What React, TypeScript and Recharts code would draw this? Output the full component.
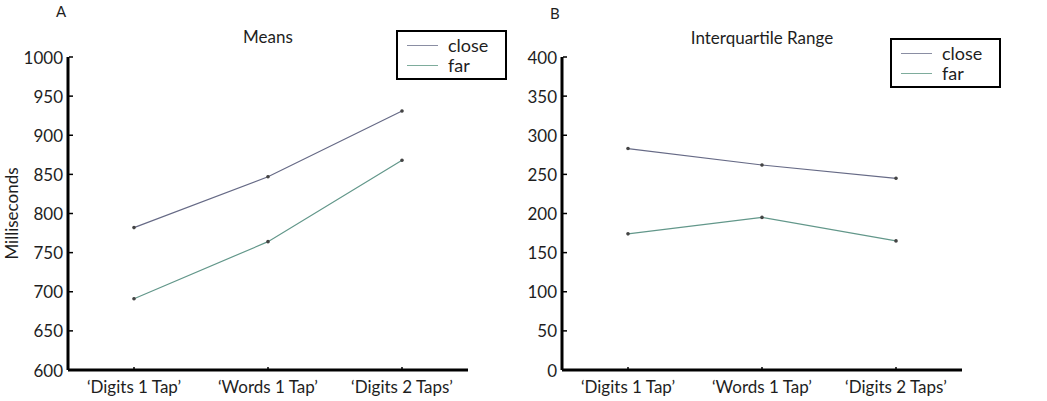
import { Line, LineChart, XAxis, YAxis } from 'recharts'

const categories = ['‘Digits 1 Tap’', '‘Words 1 Tap’', '‘Digits 2 Taps’']

const meansClose = [782, 847, 931]
const meansFar = [691, 764, 868]
const meanTicks = [600, 650, 700, 750, 800, 850, 900, 950, 1000]

const iqrClose = [283, 262, 245]
const iqrFar = [174, 195, 165]
const iqrTicks = [0, 50, 100, 150, 200, 250, 300, 350, 400]

const CLOSE = '#666a86'
const FAR = '#62978a'
const FONT = 'Lato, "Noto Sans", sans-serif'

const W = 520
const H = 401

function buildRows(close: number[], far: number[]) {
  return categories.map((name, i) => ({ name, close: close[i], far: far[i] }))
}

// inward tick marks, MATLAB style
function YTick(props: any) {
  const { x, y, payload } = props
  return (
    <g>
      <line x1={x + 6} x2={x + 10} y1={y} y2={y} stroke="#000" strokeWidth={1.5} />
      <text x={x} y={y} textAnchor="end" dominantBaseline="central" fontSize={17} fill="#1e1e1e" fontFamily={FONT}>
        {payload.value}
      </text>
    </g>
  )
}

function XTick(props: any) {
  const { x, y, payload } = props
  return (
    <g>
      <line x1={x} x2={x} y1={y - 1} y2={y - 5} stroke="#000" strokeWidth={1.5} />
      <text x={x} y={y + 14} textAnchor="middle" dominantBaseline="central" fontSize={17} fill="#1e1e1e" fontFamily={FONT}>
        {payload.value}
      </text>
    </g>
  )
}

function LegendBox({ left, top }: { left: number; top: number }) {
  const items = [
    { label: 'close', color: '#8a8ea3' },
    { label: 'far', color: '#7eac9c' },
  ]
  return (
    <div
      style={{
        position: 'absolute',
        left,
        top,
        width: 107,
        height: 46,
        border: '2px solid #000',
        background: '#fff',
        fontFamily: FONT,
        fontSize: 18,
        color: '#1e1e1e',
      }}
    >
      {items.map((it, i) => (
        <div key={it.label} style={{ display: 'flex', alignItems: 'center', height: 20, marginTop: i === 0 ? 3 : 0 }}>
          <div style={{ width: 31, height: 0, borderTop: `1.5px solid ${it.color}`, marginLeft: 9, marginRight: 10 }} />
          <span style={{ lineHeight: '20px' }}>{it.label}</span>
        </div>
      ))}
    </div>
  )
}

interface PanelProps {
  left: number
  letter: string
  letterTop: number
  title: string
  titleTop: number
  legendTop: number
  close: number[]
  far: number[]
  ticks: number[]
  yLabel?: string
}

function Panel({ left, letter, letterTop, title, titleTop, legendTop, close, far, ticks, yLabel }: PanelProps) {
  const rows = buildRows(close, far)
  return (
    <div style={{ position: 'absolute', left, top: 0, width: W, height: H }}>
      <LineChart width={W} height={H} data={rows} margin={{ top: 57, right: 52, bottom: 0, left: 0 }}>
        <XAxis
          dataKey="name"
          height={31}
          padding={{ left: 66, right: 66 }}
          axisLine={{ stroke: '#000', strokeWidth: 3 }}
          tickLine={false}
          tickSize={0}
          tick={<XTick />}
          interval={0}
        />
        <YAxis
          width={68}
          domain={[ticks[0], ticks[ticks.length - 1]]}
          ticks={ticks}
          axisLine={{ stroke: '#000', strokeWidth: 3 }}
          tickLine={false}
          tickSize={0}
          tickMargin={5}
          tick={<YTick />}
          interval={0}
          label={
            yLabel
              ? { value: yLabel, angle: -90, position: 'insideLeft', offset: 12, style: { fontFamily: FONT, fontSize: 17, fill: '#1e1e1e', textAnchor: 'middle' } }
              : undefined
          }
        />
        <Line
          dataKey="close"
          stroke={CLOSE}
          strokeWidth={1.2}
          dot={{ r: 1.2, fill: '#444', stroke: '#444' }}
          isAnimationActive={false}
        />
        <Line
          dataKey="far"
          stroke={FAR}
          strokeWidth={1.2}
          dot={{ r: 1.2, fill: '#444', stroke: '#444' }}
          isAnimationActive={false}
        />
      </LineChart>
      <div style={{ position: 'absolute', left: 0, width: 536, top: titleTop, textAlign: 'center', fontFamily: FONT, fontSize: 17, color: '#1e1e1e' }}>
        {title}
      </div>
      <div style={{ position: 'absolute', left: 56, top: letterTop, fontFamily: FONT, fontSize: 15, color: '#1e1e1e' }}>{letter}</div>
      <LegendBox left={396} top={legendTop} />
    </div>
  )
}

export default function App() {
  return (
    <div style={{ position: 'absolute', left: 0, top: 0, width: 1047, height: 401, background: '#fff', overflow: 'hidden' }}>
      <Panel
        left={0}
        letter="A"
        letterTop={2}
        title="Means"
        titleTop={26}
        legendTop={30}
        close={meansClose}
        far={meansFar}
        ticks={meanTicks}
        yLabel="Milliseconds"
      />
      <Panel
        left={494}
        letter="B"
        letterTop={4}
        title="Interquartile Range"
        titleTop={27}
        legendTop={38}
        close={iqrClose}
        far={iqrFar}
        ticks={iqrTicks}
      />
    </div>
  )
}
